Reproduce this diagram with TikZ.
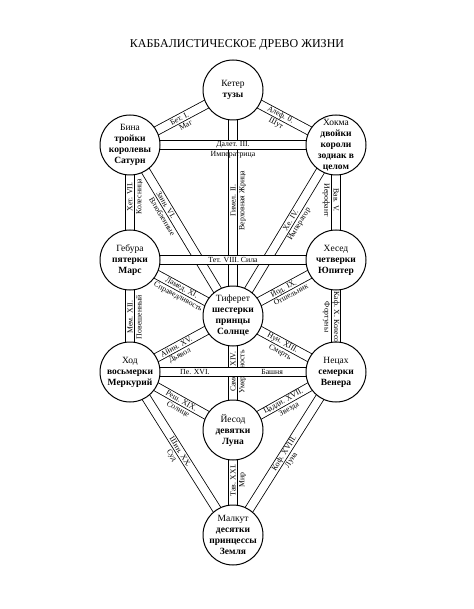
\documentclass[tikz,border=0pt]{standalone}
\usepackage{fontspec}
\setmainfont{Liberation Serif}
\pgfdeclarelayer{background}
\pgfsetlayers{background,main}
\begin{document}
\begin{tikzpicture}[x=1pt,y=-1pt,
  sephira/.style={circle, draw, line width=1pt, fill=white, minimum size=60pt, inner sep=0pt},
  septext/.style={align=center, font=\fontsize{9.5}{11}\selectfont, inner sep=0pt},
  chan/.style={draw, double=white, double distance=8pt, line width=0.8pt},
  lab/.style={font=\fontsize{7.8}{8}\selectfont, inner sep=0.8pt, sloped},
  outlab/.style={lab, below=5pt}
]
\useasboundingbox (0,0) rectangle (473,609);
\node[font=\fontsize{12}{14}\selectfont] (title) at (237,45) {КАББАЛИСТИЧЕСКОЕ ДРЕВО ЖИЗНИ};

\node[sephira, label={[septext]center:Кетер\\\textbf{тузы}}] (K) at (233,90) {};
\node[sephira, label={[septext]center:Хокма\\\textbf{двойки}\\\textbf{короли}\\\textbf{зодиак в}\\\textbf{целом}}] (H) at (336,145) {};
\node[sephira, label={[septext]center:Бина\\\textbf{тройки}\\\textbf{королевы}\\\textbf{Сатурн}}] (B) at (130,145) {};
\node[sephira, label={[septext]center:Хесед\\\textbf{четверки}\\\textbf{Юпитер}}] (C) at (336,260) {};
\node[sephira, label={[septext]center:Гебура\\\textbf{пятерки}\\\textbf{Марс}}] (G) at (130,260) {};
\node[sephira, label={[septext]center:Тиферет\\\textbf{шестерки}\\\textbf{принцы}\\\textbf{Солнце}}] (T) at (233,316) {};
\node[sephira, label={[septext]center:Нецах\\\textbf{семерки}\\\textbf{Венера}}] (N) at (336,372) {};
\node[sephira, label={[septext]center:Ход\\\textbf{восьмерки}\\\textbf{Меркурий}}] (O) at (130,372) {};
\node[sephira, label={[septext]center:Йесод\\\textbf{девятки}\\\textbf{Луна}}] (Y) at (233,430) {};
\node[sephira, label={[septext]center:Малкут\\\textbf{десятки}\\\textbf{принцессы}\\\textbf{Земля}}] (M) at (233,535) {};

\begin{pgfonlayer}{background}
\draw[chan] (T.center) -- (K.center) node[lab,pos=.51]{Гимел. II.} node[outlab,pos=.51]{Верховная Жрица};
\draw[chan] (B.center) -- (H.center) node[lab,pos=.5]{Далет. III.} node[outlab,pos=.5]{Императрица};
\draw[chan] (K.center) -- (H.center) node[lab,pos=.46]{Алеф. 0.} node[outlab,pos=.46]{Шут};
\draw[chan] (B.center) -- (K.center) node[lab,pos=.48]{Бет. I.} node[outlab,pos=.5]{Маг};
\draw[chan] (T.center) -- (H.center) node[lab,pos=.56]{Хе. IV.} node[outlab,pos=.565]{Император};
\draw[chan] (H.center) -- (C.center) node[lab,pos=.48]{Вав. V.} node[outlab,pos=.48]{Иерофант};
\draw[chan] (B.center) -- (T.center) node[lab,pos=.35]{Заин. VI.} node[outlab,pos=.39]{Влюбленные};
\draw[chan] (G.center) -- (B.center) node[lab,pos=.55]{Хет. VII.} node[outlab,pos=.55]{Колесница};
\draw[chan] (G.center) -- (C.center) node[lab,pos=.5]{Тет. VIII. Сила};
\draw[chan] (T.center) -- (C.center) node[lab,pos=.49]{Йод. IX.} node[outlab,pos=.52]{Отшельник};
\draw[chan] (C.center) -- (N.center) node[lab,pos=.51]{Каф. X. Колесо} node[outlab,pos=.51]{Фортуны};
\draw[chan] (G.center) -- (T.center) node[lab,pos=.5]{Ламед. XI.} node[outlab,pos=.51]{Справедливость};
\draw[chan] (O.center) -- (G.center) node[lab,pos=.49]{Мем. XII.} node[outlab,pos=.49]{Повешенный};
\draw[chan] (T.center) -- (N.center) node[lab,pos=.48]{Нун. XIII.} node[outlab,pos=.5]{Смерть};
\draw[chan] (Y.center) -- (T.center) node[lab,pos=.51]{Самех. XIV.} node[outlab,pos=.51]{Умеренность};
\draw[chan] (O.center) -- (T.center) node[lab,pos=.45]{Айин. XV.} node[outlab,pos=.44]{Дьявол};
\draw[chan] (O.center) -- (N.center) node[lab,pos=.315]{Пе. XVI.} node[lab,pos=.69]{Башня};
\draw[chan] (Y.center) -- (N.center) node[lab,pos=.49]{Цадди. XVII.} node[outlab,pos=.5]{Звезда};
\draw[chan] (M.center) -- (N.center) node[lab,pos=.5]{Коф. XVIII.} node[outlab,pos=.49]{Луна};
\draw[chan] (O.center) -- (Y.center) node[lab,pos=.5]{Реш. XIX.} node[outlab,pos=.51]{Солнце};
\draw[chan] (O.center) -- (M.center) node[lab,pos=.49]{Шин. XX.} node[outlab,pos=.48]{Суд};
\draw[chan] (M.center) -- (Y.center) node[lab,pos=.52]{Тав. XXI.} node[outlab,pos=.52]{Мир};
\end{pgfonlayer}
\end{tikzpicture}
\end{document}
